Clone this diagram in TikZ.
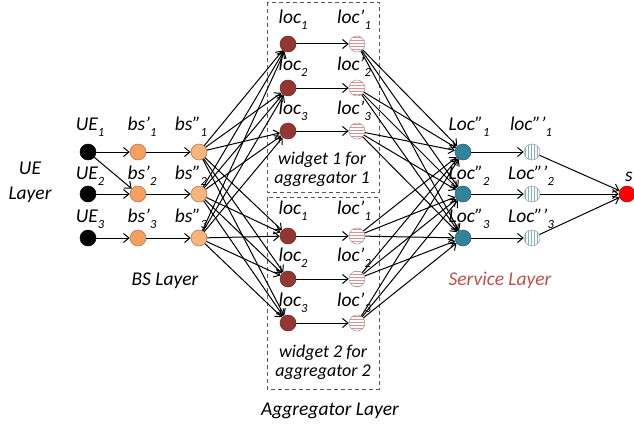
\documentclass[tikz,border=0pt]{standalone}
\usepackage{fontspec}
\setmainfont{Carlito}
\usetikzlibrary{arrows.meta,patterns}
\definecolor{bsA}{HTML}{F5A060}
\definecolor{bsB}{HTML}{F8B57E}
\definecolor{locC}{HTML}{943634}
\definecolor{tealC}{HTML}{31849B}
\definecolor{stripeR}{HTML}{E09090}
\definecolor{stripeB}{HTML}{7AB4CC}
\definecolor{servC}{HTML}{C0504D}
\newcommand{\lsub}[1]{\raisebox{-0.3em}{\fontsize{12.5}{12.5}\selectfont #1}}
\begin{document}
\begin{tikzpicture}[x=1pt,y=-1pt,
  dot/.style={circle,minimum size=16pt,inner sep=0pt,draw=gray!80,line width=0.5pt},
  ue/.style={dot,fill=black,draw=black},
  bsa/.style={dot,fill=bsA,draw=bsA!70!black},
  bsb/.style={dot,fill=bsB,draw=bsA!70!black},
  loc/.style={dot,fill=locC,draw=locC!70!black},
  locp/.style={dot,preaction={fill=white},pattern=horizontal lines,pattern color=stripeR},
  lpp/.style={dot,fill=tealC,draw=tealC!70!black},
  lppp/.style={dot,preaction={fill=white},pattern=vertical lines,pattern color=stripeB},
  sink/.style={dot,fill=red,draw=red!80!black},
  lbl/.style={font=\fontsize{19.5}{21}\selectfont\itshape,inner sep=0pt},
  wtxt/.style={font=\fontsize{18}{19}\selectfont\itshape,inner sep=0pt,align=center},
  arr/.style={-{Straight Barb[length=5.5pt,width=9pt]},line width=1pt},
  wbox/.style={draw=gray!70!black,dashed,dash pattern=on 4pt off 3pt,line width=0.9pt}
]
\useasboundingbox (0,0) rectangle (634,428);
% dashed boxes
\draw[wbox] (267,2) rectangle (379,192);
\draw[wbox] (267,197) rectangle (379,389);
% UE layer
\foreach \i/\y in {1/152,2/194,3/238}{
  \node[ue] (ue\i) at (88,\y) {};
  \node[bsa] (bsa\i) at (138,\y) {};
  \node[bsb] (bsb\i) at (199,\y) {};
  \node[lpp] (lpp\i) at (463,\y) {};
  \node[lppp] (lppp\i) at (532,\y) {};
}
\foreach \i/\y in {1/44,2/88,3/131}{
  \node[loc] (la\i) at (288,\y) {};
  \node[locp] (lap\i) at (357,\y) {};
}
\foreach \i/\y in {1/236,2/279,3/323}{
  \node[loc] (lb\i) at (288,\y) {};
  \node[locp] (lbp\i) at (357,\y) {};
}
\node[sink] (s) at (627,194) {};
% labels
\foreach \i/\y in {1/127,2/176,3/219}{
  \node[lbl] (ueL\i) at (90,\y) {UE\lsub{\i}};
  \node[lbl] (bsaL\i) at (142,\y) {bs'\lsub{\i}};
  \node[lbl] (bsbL\i) at (191,\y) {bs''\lsub{\i}};
  \node[lbl] (lppL\i) at (469,\y) {Loc''\lsub{\i}};
}
\node[lbl] (lpppL1) at (531,127) {loc'''\lsub{1}};
\node[lbl] (lpppL2) at (531,176) {Loc'''\lsub{2}};
\node[lbl] (lpppL3) at (531,219) {Loc'''\lsub{3}};
\foreach \i/\y in {1/20,2/67,3/111}{
  \node[lbl] (laL\i) at (293,\y) {loc\lsub{\i}};
  \node[lbl] (lapL\i) at (354,\y) {loc'\lsub{\i}};
}
\foreach \i/\y in {1/211,2/258,3/303}{
  \node[lbl] (lbL\i) at (293,\y) {loc\lsub{\i}};
  \node[lbl] (lbpL\i) at (354,\y) {loc'\lsub{\i}};
}
\node[lbl] (sL) at (629,177) {s};
\node[lbl,align=center,font=\fontsize{19.5}{25}\selectfont\itshape] (ueLayer) at (30,182) {UE\\Layer};
\node[lbl] (bsLayer) at (165,281) {BS Layer};
\node[lbl,text=servC] (servLayer) at (500,280) {Service Layer};
\node[lbl] (aggLayer) at (330,411) {Aggregator Layer};
\node[wtxt] (w1) at (322,169) {widget 1 for\\aggregator 1};
\node[wtxt] (w2) at (323,362) {widget 2 for\\aggregator 2};
% edges
\draw[arr] (ue1) -- (bsa1);
\draw[arr] (ue1) -- (bsa2);
\draw[arr] (ue2) -- (bsa2);
\draw[arr] (ue3) -- (bsa3);
\foreach \i in {1,2,3}{
  \draw[arr] (bsa\i) -- (bsb\i);
  \draw[arr] (la\i) -- (lap\i);
  \draw[arr] (lb\i) -- (lbp\i);
  \draw[arr] (lpp\i) -- (lppp\i);
  \draw[arr] (lppp\i) -- (s);
  \foreach \j in {1,2,3}{
    \draw[arr] (bsb\i) -- (la\j);
    \draw[arr] (bsb\i) -- (lb\j);
    \draw[arr] (lap\i) -- (lpp\j);
    \draw[arr] (lbp\i) -- (lpp\j);
  }
}
\end{tikzpicture}
\end{document}
